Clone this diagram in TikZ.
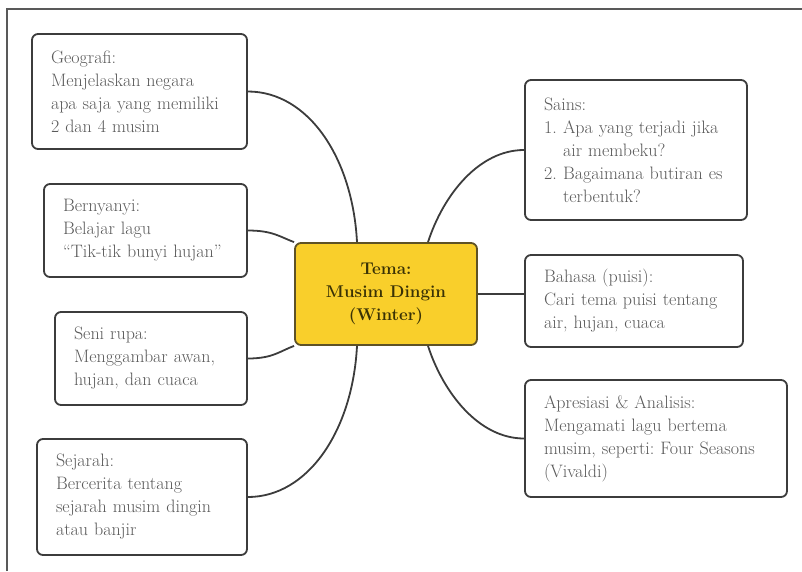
\documentclass[tikz,border=0pt]{standalone}
\usepackage{xcolor}
\definecolor{txtgray}{HTML}{5A5A5A}
\definecolor{edgegray}{HTML}{3C3C3C}
\definecolor{themefill}{HTML}{F9CF2B}
\definecolor{themeedge}{HTML}{5E5226}
\definecolor{themetext}{HTML}{3A3205}
\tikzset{
  topicbox/.style={draw=edgegray, line width=1.8pt, rounded corners=6pt, fill=white,
    align=left, inner xsep=19pt, inner ysep=4pt, text=txtgray,
    font=\fontsize{18}{23}\selectfont\frenchspacing},
  themebox/.style={draw=themeedge, line width=1.8pt, rounded corners=6pt, fill=themefill,
    align=center, inner sep=4pt, text=themetext,
    font=\fontsize{17}{23}\selectfont\bfseries},
  link/.style={draw=edgegray, line width=1.8pt},
  framebar/.style={draw=edgegray!85, line width=1.5pt}
}
\begin{document}
\begin{tikzpicture}[x=1pt,y=1pt]
\useasboundingbox (0,0) rectangle (802,-571);
\draw[framebar] (7,-571) -- (7,-9) -- (802,-9);

\node[themebox, minimum width=182pt, minimum height=102pt] (c) at (386,-294)
  {Tema:\\Musim Dingin\\(Winter)};

\node[topicbox, text width=177pt, minimum height=115pt] (geo) at (139.5,-91.5)
  {Geografi:\\Menjelaskan negara\\apa saja yang memiliki\\2 dan 4 musim};
\node[topicbox, text width=165pt, minimum height=93pt] (ber) at (145.5,-230.5)
  {Bernyanyi:\\Belajar lagu\\``Tik-tik bunyi hujan''};
\node[topicbox, text width=154pt, minimum height=93pt] (sen) at (151,-358.5)
  {Seni rupa:\\Menggambar awan,\\hujan, dan cuaca};
\node[topicbox, text width=172pt, minimum height=116pt] (sej) at (142,-497)
  {Sejarah:\\Bercerita tentang\\sejarah musim dingin\\atau banjir};

\node[topicbox, text width=184pt, minimum height=140pt] (sai) at (636,-150)
  {Sains:\\\makebox[19pt][l]{1.}Apa yang terjadi jika\\\hspace*{19pt}air membeku?\\\makebox[19pt][l]{2.}Bagaimana butiran es\\\hspace*{19pt}terbentuk?};
\node[topicbox, text width=180pt, minimum height=92pt] (bah) at (634,-301)
  {Bahasa (puisi):\\Cari tema puisi tentang\\air, hujan, cuaca};
\node[topicbox, text width=224pt, minimum height=117pt] (apr) at (656,-438.5)
  {Apresiasi \& Analisis:\\Mengamati lagu bertema\\musim, seperti: Four Seasons\\(Vivaldi)};

\coordinate (ctl) at ([xshift=-29pt]c.north);
\coordinate (ctr) at ([xshift=42pt]c.north);
\coordinate (cbl) at ([xshift=-29pt]c.south);
\coordinate (cbr) at ([xshift=42pt]c.south);

\draw[link] (geo.east) to[out=0,in=93,out distance=60pt,in distance=85pt] (ctl);
\draw[link] (ber.east) to[out=0,in=160,out distance=25pt,in distance=15pt] (c.north west);
\draw[link] (sen.east) to[out=0,in=200,out distance=25pt,in distance=15pt] (c.south west);
\draw[link] (sej.east) to[out=0,in=-93,out distance=60pt,in distance=85pt] (cbl);
\draw[link] (ctr) to[out=72,in=180,out distance=50pt,in distance=45pt] (sai.west);
\draw[link] (c.east) -- (c.east -| bah.west);
\draw[link] (cbr) to[out=-72,in=180,out distance=50pt,in distance=45pt] (apr.west);
\end{tikzpicture}
\end{document}
